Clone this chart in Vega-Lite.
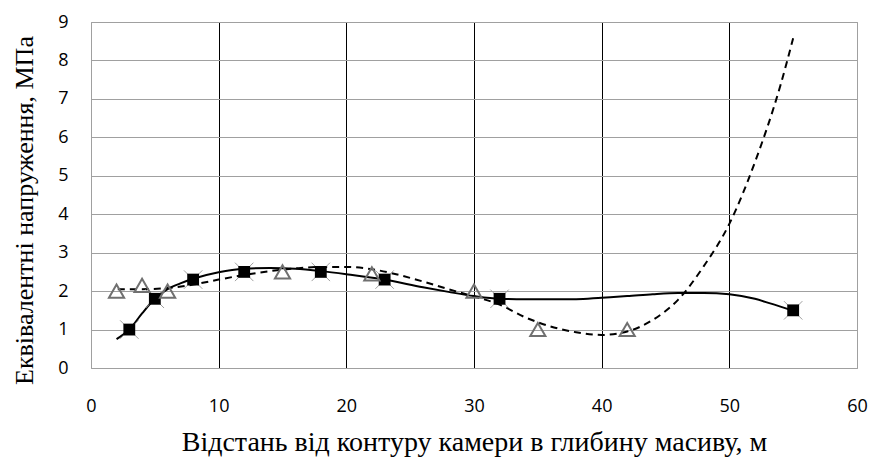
{
  "$schema": "https://vega.github.io/schema/vega-lite/v6.json",
  "width": 766,
  "height": 346,
  "autosize": "none",
  "padding": {"left": 91, "top": 22, "right": 13, "bottom": 96},
  "background": "white",
  "config": {
    "view": {"stroke": "#a0a0a0", "strokeWidth": 1},
    "axis": {
      "labelFont": "Open Sans",
      "labelFontSize": 18,
      "labelColor": "#000000",
      "titleFont": "Liberation Serif",
      "titleFontSize": 26,
      "titleFontWeight": "normal",
      "titleColor": "#000000",
      "domain": false,
      "ticks": false,
      "tickSize": 0
    }
  },
  "datasets": {
    "trend1": [
      {"x": 2, "y": 0.75}, {"x": 3, "y": 1.0}, {"x": 4, "y": 1.42}, {"x": 5, "y": 1.8},
      {"x": 6, "y": 2.05}, {"x": 7, "y": 2.2}, {"x": 8, "y": 2.32}, {"x": 10, "y": 2.49},
      {"x": 12, "y": 2.58}, {"x": 14, "y": 2.6}, {"x": 16, "y": 2.58}, {"x": 18, "y": 2.52},
      {"x": 20, "y": 2.44}, {"x": 23, "y": 2.3}, {"x": 26, "y": 2.1}, {"x": 28, "y": 1.98},
      {"x": 30, "y": 1.87}, {"x": 32, "y": 1.8}, {"x": 34, "y": 1.79}, {"x": 38, "y": 1.79},
      {"x": 40, "y": 1.83}, {"x": 42, "y": 1.87}, {"x": 44, "y": 1.92}, {"x": 46, "y": 1.95},
      {"x": 48, "y": 1.95}, {"x": 50, "y": 1.92}, {"x": 52, "y": 1.8}, {"x": 53.2, "y": 1.68},
      {"x": 55, "y": 1.49}
    ],
    "trend2": [
      {"x": 2.1, "y": 2.05}, {"x": 4, "y": 2.05}, {"x": 6, "y": 2.08}, {"x": 8, "y": 2.17},
      {"x": 10, "y": 2.3}, {"x": 12, "y": 2.42}, {"x": 14, "y": 2.52}, {"x": 16, "y": 2.59},
      {"x": 18, "y": 2.63}, {"x": 20, "y": 2.63}, {"x": 22, "y": 2.57}, {"x": 24, "y": 2.43},
      {"x": 26, "y": 2.25}, {"x": 28, "y": 2.05}, {"x": 30, "y": 1.86}, {"x": 32, "y": 1.65},
      {"x": 34, "y": 1.32}, {"x": 36, "y": 1.08}, {"x": 38, "y": 0.93}, {"x": 40, "y": 0.86},
      {"x": 42, "y": 0.95}, {"x": 44, "y": 1.25}, {"x": 46, "y": 1.78}, {"x": 48, "y": 2.65},
      {"x": 50, "y": 3.75}, {"x": 52, "y": 5.35}, {"x": 54, "y": 7.35}, {"x": 55, "y": 8.58}
    ],
    "points1": [
      {"x": 3, "y": 1.0}, {"x": 5, "y": 1.8}, {"x": 8, "y": 2.3}, {"x": 12, "y": 2.5},
      {"x": 18, "y": 2.5}, {"x": 23, "y": 2.3}, {"x": 32, "y": 1.8}, {"x": 55, "y": 1.5}
    ],
    "points2": [
      {"x": 2, "y": 2.0}, {"x": 4, "y": 2.15}, {"x": 6, "y": 2.0}, {"x": 15, "y": 2.5},
      {"x": 22, "y": 2.45}, {"x": 30, "y": 2.0}, {"x": 35, "y": 1.0}, {"x": 42, "y": 1.0}
    ]
  },
  "encoding": {
    "x": {
      "field": "x",
      "type": "quantitative",
      "scale": {"domain": [0, 60], "nice": false, "zero": false},
      "axis": {
        "values": [0, 10, 20, 30, 40, 50, 60],
        "grid": true,
        "gridColor": {"condition": {"test": "datum.value == 0 || datum.value == 60", "value": "#a0a0a0"}, "value": "#000000"},
        "gridWidth": 1,
        "labelFlush": false,
        "labelPadding": 29,
        "title": "Відстань від контуру камери в глибину масиву, м",
        "titleFontSize": 28,
        "titleBaseline": "alphabetic",
        "titleY": 82
      }
    },
    "y": {
      "field": "y",
      "type": "quantitative",
      "scale": {"domain": [0, 9], "nice": false},
      "axis": {
        "values": [0, 1, 2, 3, 4, 5, 6, 7, 8, 9],
        "grid": true,
        "gridColor": "#a0a0a0",
        "gridWidth": 1,
        "labelPadding": 23,
        "labelFlush": false,
        "title": "Еквівалентні напруження, МПа",
        "titleAngle": -90,
        "titleBaseline": "alphabetic",
        "titleAlign": "center",
        "titleX": -59,
        "titleY": 188
      }
    }
  },
  "layer": [
    {
      "data": {"name": "trend1"},
      "mark": {"type": "line", "color": "#000000", "strokeWidth": 2, "interpolate": "monotone"}
    },
    {
      "data": {"name": "trend2"},
      "mark": {"type": "line", "color": "#000000", "strokeWidth": 2, "strokeDash": [7, 5], "interpolate": "monotone"}
    },
    {
      "data": {"name": "points1"},
      "mark": {"type": "point", "shape": "M-1,-1L1,1M1,-1L-1,1", "size": 340, "stroke": "#a0a0a0", "strokeWidth": 1, "filled": false, "opacity": 1}
    },
    {
      "data": {"name": "points1"},
      "mark": {"type": "point", "shape": "square", "size": 140, "filled": true, "color": "#000000", "opacity": 1}
    },
    {
      "data": {"name": "points2"},
      "mark": {"type": "point", "shape": "triangle-up", "size": 230, "filled": false, "stroke": "#707070", "strokeWidth": 2, "opacity": 1}
    }
  ]
}
